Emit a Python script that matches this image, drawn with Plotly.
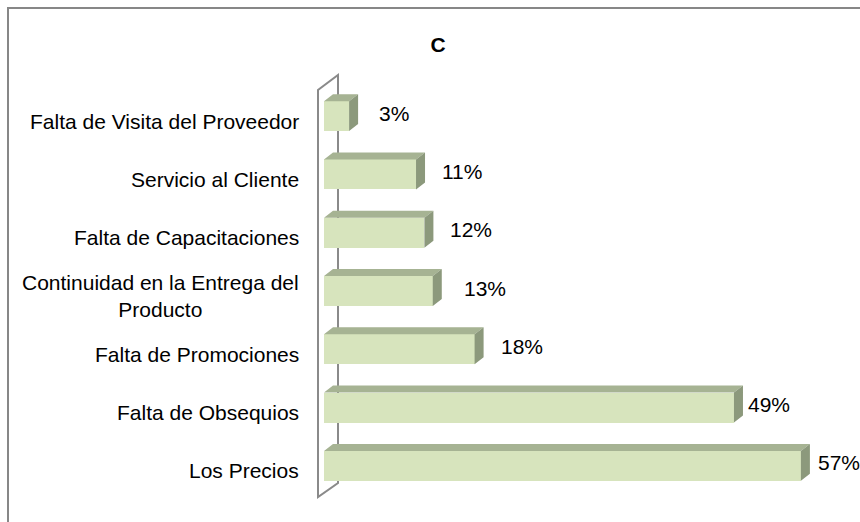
import plotly.graph_objects as go

# ---- data ----
categories = [
    "Los Precios",
    "Falta de Obsequios",
    "Falta de Promociones",
    "Continuidad en la Entrega del<br>Producto",
    "Falta de Capacitaciones",
    "Servicio al Cliente",
    "Falta de Visita del Proveedor",
]
values = [57, 49, 18, 13, 12, 11, 3]
value_labels = ["57%", "49%", "18%", "13%", "12%", "11%", "3%"]
title_text = "C"

# ---- layout constants (pixels) ----
W, H = 860, 522
ML, MR, MT, MB = 324, 34, 87, 27
XR = [0, 60]
YR = [-0.5, 6.5]
PW = W - ML - MR
PH = H - MT - MB
px_per_x = PW / (XR[1] - XR[0])
px_per_y = PH / (YR[1] - YR[0])

FONT = "Arial, 'Liberation Sans', sans-serif"
FS = 21
BAR_W = 0.514
DX = 9 / px_per_x      # depth offset in data units
DY = 7 / px_per_y

FRONT = "#d7e4bd"
TOP = "#a6b393"
SIDE = "#8c997c"
WALL = "#8a8a8a"

def ppx(x):
    return (x - ML) / PW

def ppy(y):
    return (H - MB - y) / PH

fig = go.Figure()

ypos = list(range(len(categories)))
h = BAR_W / 2

# front faces
fig.add_trace(go.Bar(
    x=values, y=ypos, orientation="h", width=BAR_W,
    marker=dict(color=FRONT, line=dict(width=0)),
    hoverinfo="skip", showlegend=False,
))

# top faces
tx, ty = [], []
for v, c in zip(values, ypos):
    tx += [0, v, v + DX, DX, 0, None]
    ty += [c + h, c + h, c + h + DY, c + h + DY, c + h, None]
fig.add_trace(go.Scatter(
    x=tx, y=ty, mode="lines", fill="toself", fillcolor=TOP,
    line=dict(width=0, color=TOP), hoverinfo="skip", showlegend=False,
))

# side faces
sx, sy = [], []
for v, c in zip(values, ypos):
    sx += [v, v + DX, v + DX, v, v, None]
    sy += [c + h, c + h + DY, c - h + DY, c - h, c + h, None]
fig.add_trace(go.Scatter(
    x=sx, y=sy, mode="lines", fill="toself", fillcolor=SIDE,
    line=dict(width=0, color=SIDE), hoverinfo="skip", showlegend=False,
))

annotations = []
# value labels
label_shift = [15, 12, 24, 29, 24, 24, 28]
for v, c, t, s in zip(values, ypos, value_labels, label_shift):
    annotations.append(dict(
        x=v, y=c, xref="x", yref="y", text=t, showarrow=False,
        xanchor="left", yanchor="middle", xshift=s, yshift=3,
        font=dict(family=FONT, size=FS, color="#000000"),
    ))
# category labels
for c, t in zip(ypos, categories):
    annotations.append(dict(
        x=0, y=c, xref="x", yref="y", text=t, showarrow=False,
        xanchor="right", yanchor="middle", align="center",
        xshift=-23, yshift=-5,
        font=dict(family=FONT, size=FS, color="#000000"),
    ))

# wall (3D axis wall) and chart border
wall_pts = [(318, 90), (318, 497), (338, 483), (338, 75)]
path = "M " + " L ".join(f"{ppx(x):.5f},{ppy(y):.5f}" for x, y in wall_pts) + " Z"
shapes = [
    dict(type="path", xref="paper", yref="paper", path=path,
         line=dict(color=WALL, width=2), fillcolor="rgba(0,0,0,0)", layer="below"),
    dict(type="rect", xref="paper", yref="paper",
         x0=ppx(8), x1=ppx(875), y0=ppy(535), y1=ppy(8),
         line=dict(color="#878787", width=2), fillcolor="rgba(0,0,0,0)", layer="below"),
]

fig.update_layout(
    width=W, height=H,
    margin=dict(l=ML, r=MR, t=MT, b=MB),
    paper_bgcolor="white", plot_bgcolor="white",
    title=dict(text=f"<b>{title_text}</b>", x=438 / W, y=1 - 45 / H,
               xanchor="center", yanchor="middle",
               font=dict(family=FONT, size=FS, color="#000000")),
    xaxis=dict(range=XR, visible=False, fixedrange=True),
    yaxis=dict(range=YR, visible=False, fixedrange=True),
    annotations=annotations,
    shapes=shapes,
    showlegend=False,
    bargap=0,
)

fig.write_html(
    "out.html",
    config={"displayModeBar": False},
    post_script="document.body.style.margin='0';document.body.style.overflow='hidden';",
)
